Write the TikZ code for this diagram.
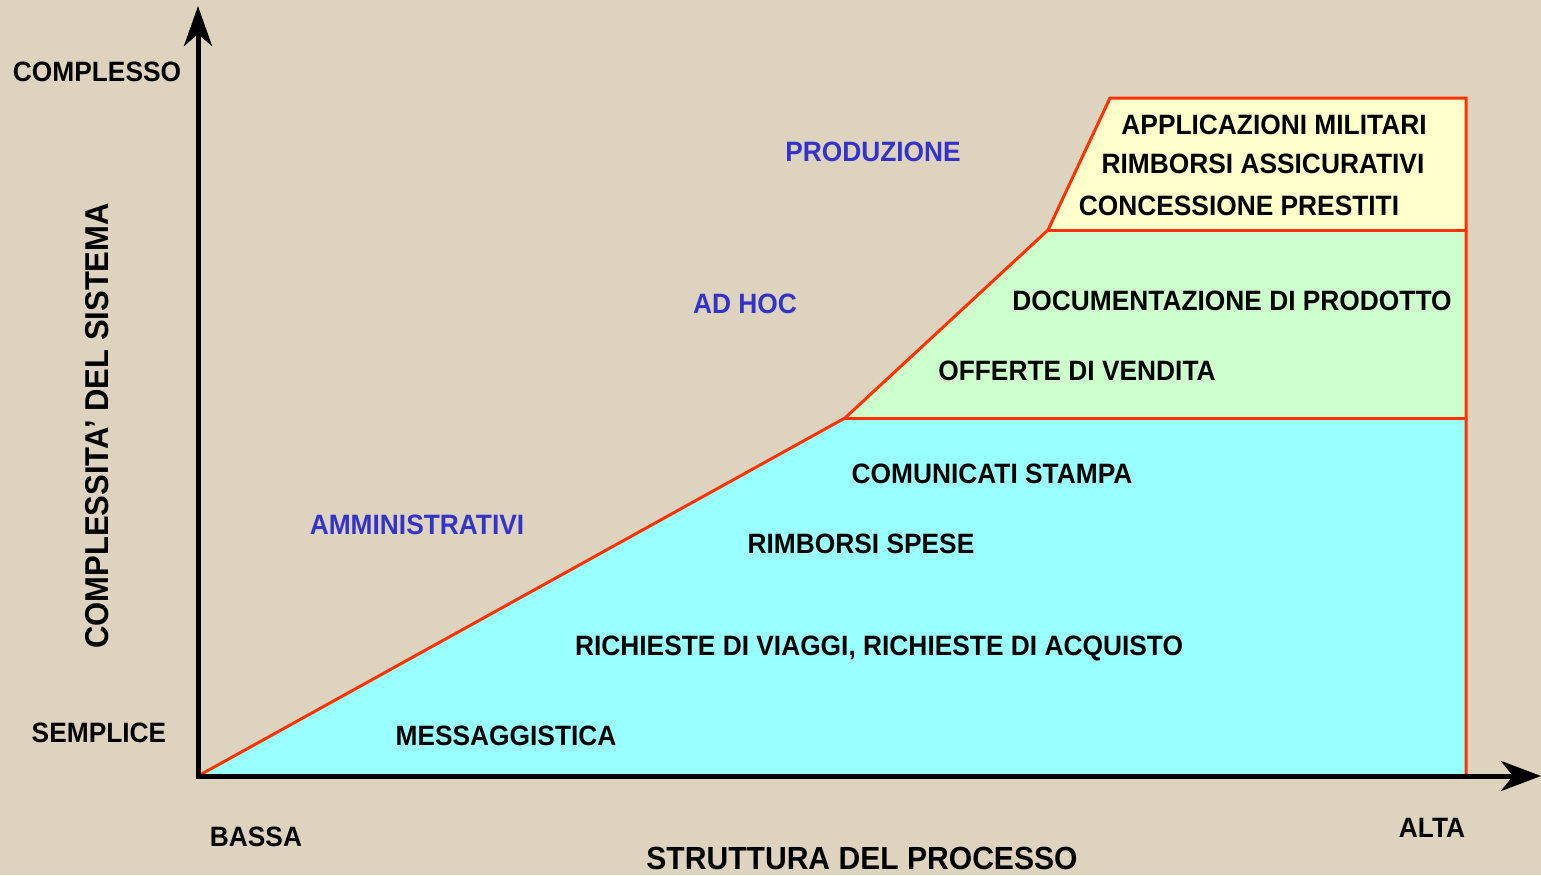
\documentclass[tikz,border=0pt]{standalone}
\usepackage{fontspec}
\setmainfont[FakeStretch=0.94]{Liberation Sans}
\usepackage{xcolor}
\usepackage{tikz}
\usetikzlibrary{arrows.meta}
\definecolor{sfondo}{RGB}{221,211,190}
\definecolor{ciano}{RGB}{153,255,255}
\definecolor{verde}{RGB}{204,255,204}
\definecolor{giallo}{RGB}{255,255,204}
\definecolor{rosso}{RGB}{255,51,0}
\definecolor{blu}{RGB}{51,51,204}

\begin{document}
\begin{tikzpicture}[x=1pt, y=-1pt, font=\fontsize{28}{31}\selectfont\bfseries]
 	  \tikzstyle{etichetta}=[text=black, inner sep=0pt]
 	  \tikzstyle{classe}=[text=blu, inner sep=0pt]
 	  \tikzstyle{bordo}=[draw=rosso, line width=3pt, line join=miter]
 	  \tikzstyle{asse}=[line width=5pt, line join=miter,
 	    {Stealth[length=40pt,width=28pt,inset=12pt]}-{Stealth[length=40pt,width=30pt,inset=12pt]}]
\fill[sfondo] (0,0) rectangle (1541,875);
\useasboundingbox (0,0) rectangle (1541,875);
% angoli delle zone
    \coordinate (origine) at (198,776);
    \coordinate (cima) at (198,6);
    \coordinate (destra) at (1541,776);
    \coordinate (a) at (845,418);
    \coordinate (b) at (1048,230);
    \coordinate (c) at (1110,98);
    \coordinate (d) at (1466,98);
    \coordinate (e) at (1466,230);
    \coordinate (f) at (1466,418);
    \coordinate (g) at (1466,776);
\fill[ciano] (origine) -- (a) -- (f) -- (g) -- cycle;
\fill[verde] (a) -- (b) -- (e) -- (f) -- cycle;
\fill[giallo] (b) -- (c) -- (d) -- (e) -- cycle;
\draw[bordo] (origine) -- (a) -- (b) -- (c) -- (d) -- (g);
\draw[bordo] (a) -- (f);
\draw[bordo] (b) -- (e);
\draw[asse] (cima) |- (destra);
% assi
    \node[etichetta] (complesso) at (97,72) {COMPLESSO};
    \node[etichetta] (semplice) at (99,733) {SEMPLICE};
    \node[etichetta] (bassa) at (256,837) {BASSA};
    \node[etichetta] (alta) at (1432,828) {ALTA};
    \node[etichetta, font=\fontsize{32}{35}\selectfont\bfseries] (struttura) at (862,858) {STRUTTURA DEL PROCESSO};
    \node[etichetta, rotate=90, font=\fontsize{33}{36}\selectfont\bfseries] (complessita) at (97,426) {COMPLESSITA’ DEL SISTEMA};
% classi
\foreach \nome/\x/\y/\testo in {produzione/873/152/PRODUZIONE, adhoc/745/304/AD HOC,
      amministrativi/417/525/AMMINISTRATIVI}{
    \node[classe] (\nome) at (\x,\y) {\testo};
      }
% documenti
\foreach \nome/\x/\y/\testo in {militari/1274/125/APPLICAZIONI MILITARI,
      assicurativi/1263/164/RIMBORSI ASSICURATIVI, prestiti/1239/206/CONCESSIONE PRESTITI,
      documentazione/1232/301/DOCUMENTAZIONE DI PRODOTTO, offerte/1077/371/OFFERTE DI VENDITA,
      comunicati/992/474/COMUNICATI STAMPA, spese/861/544/RIMBORSI SPESE,
      richieste/879/648/{RICHIESTE DI VIAGGI, RICHIESTE DI ACQUISTO},
      messaggistica/506/736/MESSAGGISTICA}{
    \node[etichetta] (\nome) at (\x,\y) {\testo};
      }
   \end{tikzpicture}
\end{document}
